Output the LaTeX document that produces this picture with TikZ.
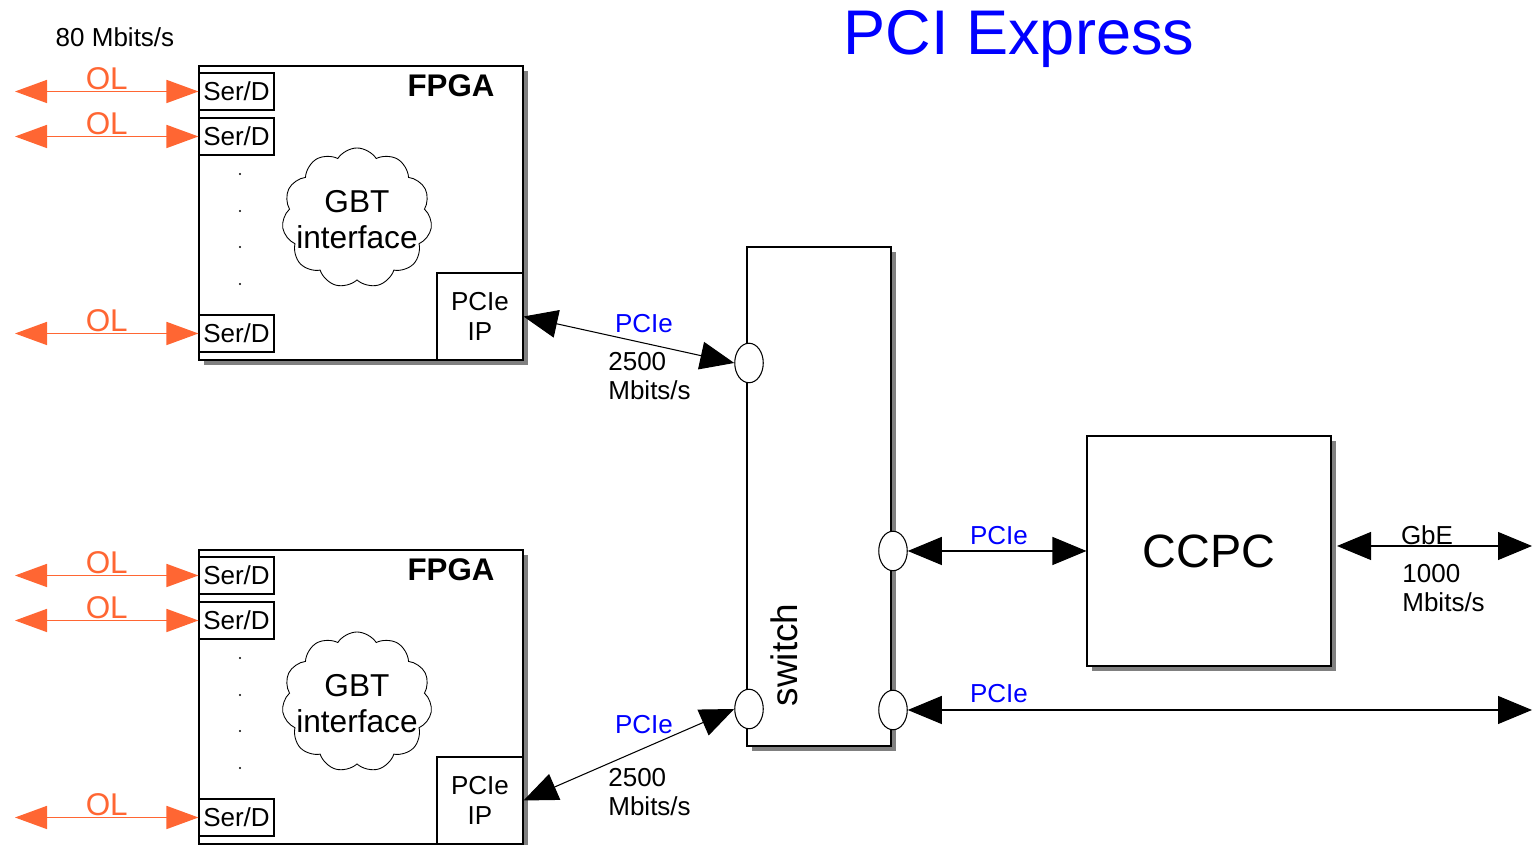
\documentclass[tikz,border=0pt]{standalone}
\usepackage{fontspec}
\setmainfont{Liberation Sans}
\usepackage{tikz}
\usetikzlibrary{arrows.meta,shapes.geometric,shapes.symbols,shadows}
\definecolor{olorange}{RGB}{255,102,51}
\definecolor{pcieblue}{RGB}{0,0,255}
\definecolor{shadowgray}{RGB}{128,128,128}

\begin{document}
\begin{tikzpicture}[
        >={Triangle[length=0.68cm,width=0.56cm]},
        shadowbox/.style={rectangle, draw=black, fill=white, line width=0.6pt, drop shadow={shadow xshift=0.1cm, shadow yshift=-0.1cm, fill=shadowgray, opacity=1}},
        fpgabox/.style={shadowbox, minimum width=6.48cm, minimum height=5.88cm},
        serbox/.style={rectangle, draw=black, fill=white, line width=0.6pt, minimum width=1.5cm, minimum height=0.74cm, inner sep=0pt, font=\fontsize{14.8}{17}\selectfont},
        ipbox/.style={rectangle, draw=black, fill=white, line width=0.6pt, minimum width=1.72cm, minimum height=1.74cm, inner sep=0pt, align=center, font=\fontsize{14.8}{17}\selectfont},
        gbtcloud/.style={cloud, draw=black, line width=0.5pt, cloud puffs=11, cloud puff arc=115, aspect=1.05, minimum width=3cm, minimum height=2.8cm, inner sep=0pt},
        port/.style={ellipse, draw=black, fill=white, line width=0.6pt, minimum width=0.57cm, minimum height=0.79cm, inner sep=0pt},
        dotpt/.style={circle, fill=black, inner sep=0pt, minimum size=1.3pt},
        txt/.style={font=\fontsize{14.8}{17}\selectfont, inner sep=0pt},
        bluetxt/.style={txt, text=pcieblue},
        oltxt/.style={font=\fontsize{17.9}{20}\selectfont, text=olorange, inner sep=0.5pt},
        olink/.style={draw=olorange, line width=0.9pt, {Triangle[length=0.64cm,width=0.46cm]}-{Triangle[length=0.64cm,width=0.46cm]}},
        pcielink/.style={draw=black, line width=0.6pt, <->}
    ]
    \useasboundingbox (0,0) rectangle (30.66,16.9);

    % ==========================================
    % 1. Titles
    % ==========================================
    \node[font=\fontsize{35.9}{40}\selectfont, text=pcieblue] (title) at (20.38, 16.12) {PCI Express};
    \node[txt] (olrate) at (2.30, 16.16) {80 Mbits/s};

    % ==========================================
    % 2. FPGA (top)
    % ==========================================
    \node[fpgabox] (fpgaA) at (7.22, 12.64) {};
    \node[font=\bfseries\fontsize{17.8}{20}\selectfont] (fpgaAlbl) at (9.02, 15.18) {FPGA};
    \node[serbox] (serA1) at (4.73, 15.07) {Ser/D};
    \node[serbox] (serA2) at (4.73, 14.17) {Ser/D};
    \node[serbox] (serA3) at (4.73, 10.23) {Ser/D};
    \node[ipbox] (ipA) at (9.60, 10.57) {PCIe\\IP};
    \node[gbtcloud] (gbtA) at (7.14, 12.54) {};
    \node[align=center, font=\fontsize{18}{20.4}\selectfont, inner sep=0pt] (gbtAtxt) at (7.14, 12.50) {GBT\\interface};
    \foreach \y [count=\k] in {13.42, 12.68, 11.96, 11.22} {
        \node[dotpt] (dotA\k) at (4.80, \y) {};
    }

    % optical links (top)
    \coordinate (olA1) at (0.30, 15.07);
    \coordinate (olA2) at (0.30, 14.17);
    \coordinate (olA3) at (0.30, 10.23);
    \foreach \k in {1, 2, 3} {
        \path[olink] (olA\k) -- node[above, oltxt] {OL} (serA\k.west);
    }

    % ==========================================
    % 3. FPGA (bottom)
    % ==========================================
    \node[fpgabox] (fpgaB) at (7.22, 2.96) {};
    \node[font=\bfseries\fontsize{17.8}{20}\selectfont] (fpgaBlbl) at (9.02, 5.50) {FPGA};
    \node[serbox] (serB1) at (4.73, 5.39) {Ser/D};
    \node[serbox] (serB2) at (4.73, 4.49) {Ser/D};
    \node[serbox] (serB3) at (4.73, 0.55) {Ser/D};
    \node[ipbox] (ipB) at (9.60, 0.89) {PCIe\\IP};
    \node[gbtcloud] (gbtB) at (7.14, 2.86) {};
    \node[align=center, font=\fontsize{18}{20.4}\selectfont, inner sep=0pt] (gbtBtxt) at (7.14, 2.82) {GBT\\interface};
    \foreach \y [count=\k] in {3.74, 3.00, 2.28, 1.54} {
        \node[dotpt] (dotB\k) at (4.80, \y) {};
    }

    % optical links (bottom)
    \coordinate (olB1) at (0.30, 5.39);
    \coordinate (olB2) at (0.30, 4.49);
    \coordinate (olB3) at (0.30, 0.55);
    \foreach \k in {1, 2, 3} {
        \path[olink] (olB\k) -- node[above, oltxt] {OL} (serB\k.west);
    }

    % ==========================================
    % 4. Switch and CCPC
    % ==========================================
    \node[shadowbox, minimum width=2.88cm, minimum height=9.98cm] (switch) at (16.38, 6.97) {};
    \node[rotate=90, font=\fontsize{21}{24}\selectfont, inner sep=0pt] (switchlbl) at (15.68, 3.80) {switch};
    \node[port] (pA) at (14.98, 9.64) {};
    \node[port] (pB) at (14.98, 2.72) {};
    \node[port] (pC) at (17.86, 5.88) {};
    \node[port] (pD) at (17.86, 2.70) {};

    \node[shadowbox, minimum width=4.88cm, minimum height=4.60cm, font=\fontsize{26.6}{30}\selectfont] (ccpc) at (24.18, 5.88) {CCPC};

    % ==========================================
    % 5. PCIe / GbE links
    % ==========================================
    \path[pcielink] (ipA.east) -- (pA.west);
    \node[bluetxt] (pcieAlbl) at (12.88, 10.42) {PCIe};
    \node[txt, anchor=west, align=left] (rateA) at (12.16, 9.38) {2500\\Mbits/s};

    \path[pcielink] (ipB.east) -- (pB.west);
    \node[bluetxt] (pcieBlbl) at (12.88, 2.40) {PCIe};
    \node[txt, anchor=west, align=left] (rateB) at (12.16, 1.06) {2500\\Mbits/s};

    \path[pcielink] (pC.east) -- (ccpc.west);
    \node[bluetxt] (pcieClbl) at (19.98, 6.18) {PCIe};

    \coordinate (gbeL) at (26.74, 5.98);
    \coordinate (gbeR) at (30.64, 5.98);
    \path[pcielink] (gbeL) -- (gbeR);
    \node[txt] (gbelbl) at (28.54, 6.20) {GbE};
    \node[txt, anchor=west, align=left] (gberate) at (28.04, 5.14) {1000\\Mbits/s};

    \coordinate (outR) at (30.64, 2.70);
    \path[pcielink] (pD.east) -- (outR);
    \node[bluetxt] (pcieDlbl) at (19.98, 3.02) {PCIe};

\end{tikzpicture}
\end{document}
